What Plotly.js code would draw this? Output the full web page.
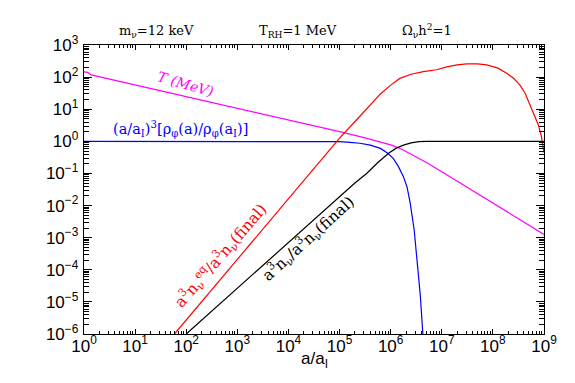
<!DOCTYPE html>
<html>
<head>
<meta charset="utf-8">
<script src="https://cdn.plot.ly/plotly-3.0.1.min.js"></script>
<style>
  body { margin: 0; background: #fff; }
  #plot { width: 575px; height: 383px; }
</style>
</head>
<body>
<div id="plot"></div>
<script>
// values as log10(a/aI) and log10(y)
let tempLogA = [0, 0.07, 0.14, 1, 2, 3, 4, 5, 5.5, 5.8, 6.0, 6.2, 6.4, 6.7, 7.0, 7.5, 8, 8.5, 9];
let tempLogY = [2.16, 2.15, 2.07, 1.76, 1.40, 1.03, 0.66, 0.30, 0.11, -0.03, -0.11, -0.23, -0.40, -0.66, -0.95, -1.43, -1.92, -2.41, -2.90];

let phiLogA = [0, 1, 2, 3, 4, 4.8, 5.0, 5.2, 5.4, 5.6, 5.8, 5.95, 6.05, 6.15, 6.25, 6.32, 6.38, 6.46, 6.52, 6.58, 6.63];
let phiLogY = [0, 0, 0, 0, 0, 0, -0.01, -0.03, -0.06, -0.12, -0.22, -0.38, -0.53, -0.78, -1.10, -1.42, -1.90, -2.76, -3.7, -4.8, -6.0];

let eqLogA = [1.77, 3, 4, 4.5, 5.0, 5.34, 5.66, 5.79, 6.0, 6.18, 6.4, 6.64, 6.9, 7.1, 7.3, 7.49, 7.7, 7.88, 8.1, 8.27, 8.4, 8.53, 8.63, 8.73, 8.82, 8.89, 8.95, 9.0];
let eqLogY = [-6, -3.67, -1.78, -0.84, 0.10, 0.68, 1.25, 1.46, 1.75, 1.96, 2.09, 2.17, 2.23, 2.32, 2.38, 2.41, 2.41, 2.38, 2.28, 2.12, 1.97, 1.75, 1.50, 1.13, 0.80, 0.51, 0.15, -0.35];

let nuLogA = [2.0, 3, 4, 5, 5.3, 5.53, 5.75, 5.96, 6.1, 6.25, 6.4, 6.55, 6.7, 9];
let nuLogY = [-6, -4.57, -3.14, -1.71, -1.30, -1.0, -0.66, -0.37, -0.22, -0.12, -0.05, -0.01, 0, 0];

let xTickVals = [1, 10, 100, 1e3, 1e4, 1e5, 1e6, 1e7, 1e8, 1e9];
let xTickText = ["10<sup>0</sup>", "10<sup>1</sup>", "10<sup>2</sup>", "10<sup>3</sup>", "10<sup>4</sup>",
                 "10<sup>5</sup>", "10<sup>6</sup>", "10<sup>7</sup>", "10<sup>8</sup>", "10<sup>9</sup>"];
let yTickVals = [1e-6, 1e-5, 1e-4, 1e-3, 1e-2, 1e-1, 1, 10, 100, 1e3];
let yTickText = ["10<sup>−6</sup>", "10<sup>−5</sup>", "10<sup>−4</sup>", "10<sup>−3</sup>", "10<sup>−2</sup>",
                 "10<sup>−1</sup>", "10<sup>0</sup>", "10<sup>1</sup>", "10<sup>2</sup>", "10<sup>3</sup>"];

function pow10(arr) {
    return arr.map(v => Math.pow(10, v));
}

function line(lx, ly, color) {
    return {
        x: pow10(lx),
        y: pow10(ly),
        mode: 'lines',
        type: 'scatter',
        line: { color: color, width: 1.2 },
        hoverinfo: 'skip'
    };
}

let traces = [
    line(tempLogA, tempLogY, '#ff00ff'),
    line(phiLogA, phiLogY, '#0000ff'),
    line(eqLogA, eqLogY, '#ff0000'),
    line(nuLogA, nuLogY, '#000000')
];

let serif = 'DejaVu Serif, serif';
let sans = 'Liberation Sans, Arial, sans-serif';

function topLabel(text, x) {
    return {
        xref: 'paper', yref: 'paper', x: x, y: 1, xanchor: 'center', yanchor: 'bottom', yshift: 3,
        text: text, showarrow: false, font: { family: serif, size: 13, color: 'black' }
    };
}

function curveLabel(text, lx, ly, color, angle, size, italic) {
    return {
        xref: 'x', yref: 'y', x: lx, y: ly, xanchor: 'center', yanchor: 'middle',
        text: text, showarrow: false, textangle: angle,
        font: { family: serif, size: size, color: color, style: italic ? 'italic' : 'normal' }
    };
}

let axisCommon = {
    type: 'log',
    showline: true,
    linecolor: 'black',
    linewidth: 1.2,
    mirror: 'allticks',
    ticks: 'inside',
    tickcolor: 'black',
    showgrid: false,
    zeroline: false,
    tickmode: 'array',
    tickfont: { family: sans, size: 17, color: 'black' }
};

let layout = {
    width: 575,
    height: 383,
    margin: { l: 84, r: 31, t: 45, b: 49 },
    paper_bgcolor: 'white',
    plot_bgcolor: 'white',
    showlegend: false,
    xaxis: Object.assign({}, axisCommon, {
        range: [0, 9],
        tickvals: xTickVals,
        ticktext: xTickText,
        ticklen: 5,
        ticklabelstandoff: -4,
        minor: { ticks: 'inside', ticklen: 3, tickcolor: 'black', dtick: 'D1' }
    }),
    yaxis: Object.assign({}, axisCommon, {
        range: [-6, 3],
        tickvals: yTickVals,
        ticktext: yTickText,
        ticklen: 8,
        ticklabelstandoff: 1,
        minor: { ticks: 'inside', ticklen: 5, tickcolor: 'black', dtick: 'D1' }
    }),
    annotations: [
        topLabel('m<sub>ν</sub>=12 keV', 0.158),
        topLabel('T<sub>RH</sub>=1 MeV', 0.465),
        topLabel('Ω<sub>ν</sub>h<sup>2</sup>=1', 0.746),
        // x axis title sits close under the tick labels
        {
            xref: 'paper', yref: 'paper', x: 0.5, y: 0, xanchor: 'center', yanchor: 'middle', yshift: -26,
            text: 'a/a<sub>I</sub>', showarrow: false, font: { family: sans, size: 17, color: 'black' }
        },
        curveLabel('T (MeV)', 1.99, 1.80, '#ff00ff', 16, 14, true),
        curveLabel('(a/a<sub>I</sub>)<sup>3</sup>[ρ<sub>φ</sub>(a)/ρ<sub>φ</sub>(a<sub>I</sub>)]', 1.88, 0.38, '#0000ff', 0, 14.5, false),
        curveLabel('a<sup>3</sup>n<sub>ν</sub><sup>eq</sup>/a<sup>3</sup>n<sub>ν</sub>(final)', 2.68, -3.54, '#ff0000', -49, 15.5, false),
        curveLabel('a<sup>3</sup>n<sub>ν</sub>/a<sup>3</sup>n<sub>ν</sub>(final)', 4.40, -3.04, '#000000', -42, 15.5, false)
    ]
};

Plotly.newPlot('plot', traces, layout, { displayModeBar: false, staticPlot: true });
</script>
</body>
</html>
